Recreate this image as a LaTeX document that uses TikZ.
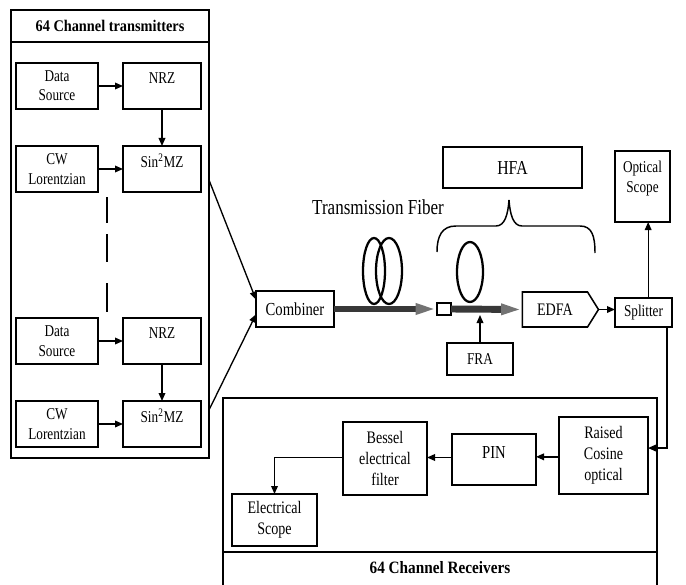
\documentclass[tikz,border=0pt]{standalone}
\usepackage{fontspec}
\setmainfont{Liberation Serif}[FakeStretch=0.8]
\newfontfamily\titlefont{Liberation Serif}[FakeStretch=0.88]
\usetikzlibrary{arrows.meta,shapes.symbols}
\newcommand\tfA{\fontsize{12.4}{14.5}\selectfont}
\newcommand\tfB{\fontsize{13.2}{15.75}\selectfont}
\begin{document}
\begin{tikzpicture}[x=0.75pt,y=-0.75pt,
  box/.style={draw,line width=1.15pt,align=center,inner sep=1pt,outer sep=0pt,font=\tfA},
  rbox/.style={box,font=\tfB},
  toptext/.style 2 args={label={[anchor=north,inner sep=0pt,yshift=#2,align=center,font=\tfA]north:#1}},
  conn/.style={line width=1pt,-{Triangle[length=6pt,width=5pt]}},
  fiber/.style={line width=5.2pt,color=black!78,-{Triangle[length=16pt,width=7.5pt,color=black!55]}},
  coil/.style={line width=1.7pt},
  frame/.style={line width=1.15pt}]
\useasboundingbox (0,0) rectangle (686,585);

% ---------- transmitters ----------
\draw[frame] (11,10) rectangle (209,458);
\draw[frame] (11,42) -- (209,42);
\node[font=\titlefont\bfseries\fontsize{12.2}{14}\selectfont] (txtitle) at (110,26) {64 Channel transmitters};

\node[box,minimum width=61.5pt,minimum height=34.5pt] (ds1) at (57,86) {Data\\Source};
\node[box,minimum width=58.5pt,minimum height=34.5pt,toptext={NRZ}{-6.75pt}] (nrz1) at (162,86) {};
\node[box,minimum width=61.5pt,minimum height=34.5pt] (cw1) at (57,169) {CW\\Lorentzian};
\node[box,minimum width=58.5pt,minimum height=34.5pt,toptext={Sin\textsuperscript{2}MZ}{-6pt}] (sin1) at (162,169) {};

\node[box,minimum width=61.5pt,minimum height=34.5pt] (ds2) at (57,341) {Data\\Source};
\node[box,minimum width=58.5pt,minimum height=34.5pt,toptext={NRZ}{-6.75pt}] (nrz2) at (162,341) {};
\node[box,minimum width=61.5pt,minimum height=34.5pt] (cw2) at (57,424) {CW\\Lorentzian};
\node[box,minimum width=58.5pt,minimum height=34.5pt,toptext={Sin\textsuperscript{2}MZ}{-6pt}] (sin2) at (162,424) {};

\draw[conn] (ds1) -- (nrz1);
\draw[conn] (cw1) -- (sin1);
\draw[conn] (nrz1) -- (sin1);
\draw[conn] (ds2) -- (nrz2);
\draw[conn] (cw2) -- (sin2);
\draw[conn] (nrz2) -- (sin2);

\draw[line width=1pt] (107,197) -- (107,223) (107,234) -- (107,262) (107,283) -- (107,312);

% ---------- link ----------
\node[box,minimum width=58.5pt,minimum height=27pt,font=\fontsize{13.75}{15}\selectfont] (comb) at (295,309) {Combiner};
\coordinate (tx1) at (209,180);
\coordinate (tx2) at (209,410);
\draw[conn] (tx1) -- ([yshift=7pt]comb.west);
\draw[conn] (tx2) -- ([yshift=-4pt]comb.west);

\node[box,minimum width=10.5pt,minimum height=9pt,inner sep=0pt] (sq) at (444,309) {};
\node[draw,line width=1.15pt,shape=signal,signal to=east,signal pointer angle=116,
      minimum width=57pt,minimum height=26.25pt,inner sep=1pt,outer sep=0pt,
      font=\fontsize{13.2}{15}\selectfont] (edfa) at (555,309.5) {EDFA};
\draw[fiber] (comb.east) -- (sq.west);
\draw[fiber] (sq.east) -- (edfa.west);

\draw[coil] (374,271) ellipse [x radius=11, y radius=33];
\draw[coil] (389,271) ellipse [x radius=13, y radius=33];
\draw[coil] (470,272) ellipse [x radius=13, y radius=30];

\node[font=\fontsize{16}{18}\selectfont] (tf) at (378,207) {Transmission Fiber};

\draw[line width=1.1pt] (437,252) .. controls (437,236) and (442,226) .. (456,226) -- (496,226)
  .. controls (505,226) and (508,214) .. (509,200)
  .. controls (510,214) and (513,226) .. (522,226) -- (580,226)
  .. controls (592,226) and (595,236) .. (595,253);
\node[box,minimum width=104.25pt,minimum height=30.75pt,font=\fontsize{14.8}{16}\selectfont] (hfa) at (512.5,167.5) {HFA};

\node[box,minimum width=49.5pt,minimum height=24pt] (fra) at (480,359) {FRA};
\draw[conn] (fra.north) -- (fra.north |- sq.south);

\node[box,minimum width=42.75pt,minimum height=21.75pt] (spl) at (643.5,312.5) {Splitter};
\draw[conn] (edfa.east) -- (edfa.east -| spl.west);
\node[box,minimum width=41.25pt,minimum height=53.25pt,toptext={Optical\\Scope}{-7.5pt}] (os) at (642.5,186.5) {};
\draw[conn] ([xshift=3.5pt]spl.north) -- ([xshift=3.5pt]spl.north |- os.south);

% ---------- receivers ----------
\draw[frame] (223,585) -- (223,398) -- (657,398) -- (657,585);
\draw[frame] (223,552) -- (657,552);
\node[font=\titlefont\bfseries\fontsize{13}{15}\selectfont] (rxtitle) at (440,568) {64 Channel Receivers};

\node[rbox,minimum width=66.75pt,minimum height=57.75pt] (rc) at (603.5,455.5) {Raised\\Cosine\\optical};
\node[rbox,minimum width=63pt,minimum height=38.25pt,toptext={\fontsize{13.75}{15}\selectfont PIN}{-9.5pt}] (pin) at (494,459.5) {};
\node[rbox,minimum width=63pt,minimum height=54.75pt] (bes) at (385,458.5) {Bessel\\electrical\\filter};
\node[rbox,minimum width=63.75pt,minimum height=39pt] (es) at (274.5,520) {Electrical\\Scope};

\draw[conn] ([xshift=17.6pt]spl.south) |- ([yshift=5.6pt]rc.east);
\draw[conn] ([yshift=-1pt]rc.west) -- ([yshift=-1pt]rc.west -| pin.east);
\draw[conn] ([yshift=1.5pt]pin.west) -- ([yshift=1.5pt]pin.west -| bes.east);
\draw[conn] ([yshift=1pt]bes.west) -| (es.north);
\end{tikzpicture}
\end{document}
